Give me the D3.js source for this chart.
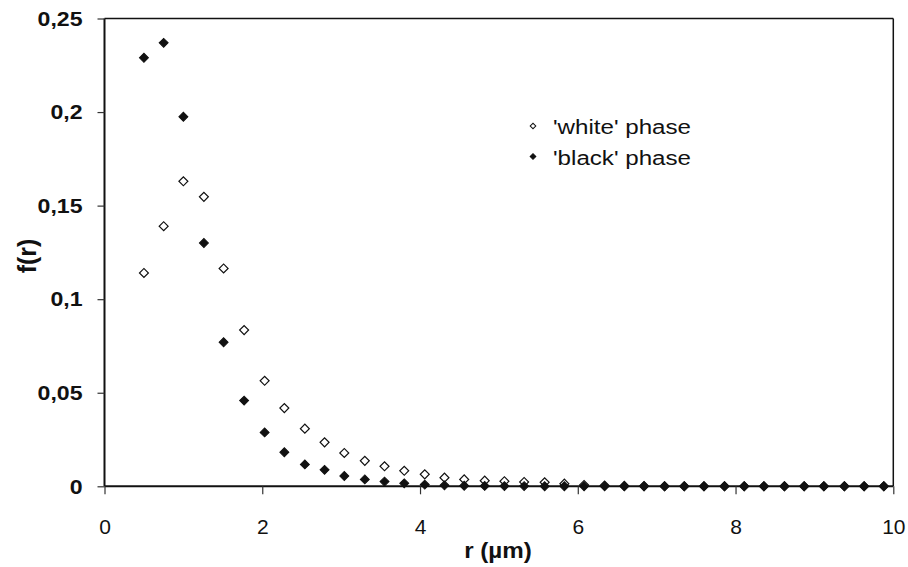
<!DOCTYPE html>
<html>
<head>
<meta charset="utf-8">
<script src="https://cdn.jsdelivr.net/npm/d3@7"></script>
<style>
body{margin:0;background:#fff;}
svg{display:block;font-family:Arial,"Liberation Sans",sans-serif;}
</style>
</head>
<body>
<div id="plot"></div>
<script>
// r values (µm) and f(r)
var rVals = [0.5,0.75,1.0,1.26,1.51,1.77,2.03,2.28,2.54,2.79,3.04,3.30,3.55,3.80,4.06,4.31,4.56,4.82,5.07,5.32,
	5.58,5.83,6.08,6.34,6.59,6.84,7.10,7.35,7.60,7.86,8.11,8.36,8.62,8.87,9.12,9.38,9.63,9.88];
var whitePhase = [0.114,0.139,0.163,0.1547,0.1164,0.0835,0.0564,0.0418,0.0308,0.0235,0.0178,0.0136,0.0107,0.0083,0.0064,0.0046,0.0037,0.0030,0.0027,0.0023,
	0.0021,0.0014,0.0007,0.0004,0.0002,0.0001,0,0,0,0,0,0,0,0,0,0,0,0];
var blackPhase = [0.229,0.237,0.1975,0.130,0.077,0.0458,0.0288,0.0182,0.0117,0.0088,0.0055,0.0037,0.0025,0.0016,0.0009,0.0005,0.0003,0.0002,0.0001,0.0001,
	0,0,0,0,0,0,0,0,0,0,0,0,0,0,0,0,0,0];
var xTicks = [0,2,4,6,8,10];
var yTicks = [0,0.05,0.1,0.15,0.2,0.25];
var seriesNames = ["'white' phase","'black' phase"];

var W = 908, H = 567;
var m = {t:18.5,r:14.7,b:80.7,l:104.5},
	width = W - m.l - m.r,
	height = H - m.t - m.b;

var svg = d3.select('#plot')
	.append('svg')
	.attr('width',W)
	.attr('height',H);

var plot = svg.append('g')
	.attr('transform','translate('+m.l+','+m.t+')');

var x = d3.scaleLinear().domain([0,10]).range([0,width]);
var y = d3.scaleLinear().domain([0,0.25]).range([height,0]);

//frame: top + right
plot.append('line').attr('x1',0).attr('x2',width).attr('y1',0).attr('y2',0)
	.style('stroke','#111').style('stroke-width',1.5);
plot.append('line').attr('x1',width).attr('x2',width).attr('y1',0).attr('y2',height)
	.style('stroke','#111').style('stroke-width',1.5);

//axes
var yAxis = plot.append('g')
	.call(d3.axisLeft(y).tickValues(yTicks).tickSize(7).tickPadding(15)
		.tickFormat(function(d){ return d3.format('')(+d.toFixed(2)).replace('.',','); }));
yAxis.selectAll('text')
	.style('font-size','21px').style('font-weight','bold').style('fill','#111')
	.attr('x',0)
	.attr('transform','translate(-22,0) scale(1.1,1)');

var xAxis = plot.append('g')
	.attr('transform','translate(0,'+height+')')
	.call(d3.axisBottom(x).tickValues(xTicks).tickSize(8).tickPadding(25));
xAxis.selectAll('text')
	.style('font-size','21px').style('fill','#111');

[yAxis,xAxis].forEach(function(a){
	a.select('.domain').style('stroke','#111').style('stroke-width',2);
	a.selectAll('.tick line').style('stroke','#333').style('stroke-width',1.2);
});
xAxis.select('.domain').attr('d','M0,0H'+width);
yAxis.select('.domain').attr('d','M0,'+height+'V0');

//axis titles
svg.append('text')
	.attr('transform','translate(498,558) scale(1.1,1)')
	.attr('text-anchor','middle')
	.style('font-size','22px').style('font-weight','bold').style('fill','#111')
	.text('r (µm)');
svg.append('text')
	.attr('transform','translate(36,256) rotate(-90)')
	.attr('text-anchor','middle')
	.style('font-size','25px').style('font-weight','bold').style('fill','#111')
	.text('f(r)');

//markers
var diamond = d3.symbol().type(d3.symbolSquare).size(40);
var white = rVals.map(function(r,i){ return {r:r,v:whitePhase[i]}; });
var black = rVals.map(function(r,i){ return {r:r,v:blackPhase[i]}; });

plot.selectAll('.white').data(white).enter()
	.append('path').attr('class','white')
	.attr('d',diamond)
	.attr('transform',function(d){ return 'translate('+x(d.r)+','+y(d.v)+') rotate(45)'; })
	.style('fill','#fff').style('stroke','#111').style('stroke-width',1.2);

plot.selectAll('.black').data(black).enter()
	.append('path').attr('class','black')
	.attr('d',diamond)
	.attr('transform',function(d){ return 'translate('+x(d.r)+','+y(d.v)+') rotate(45)'; })
	.style('fill','#111').style('stroke','#111').style('stroke-width',1);

//legend
var legendMark = d3.symbol().type(d3.symbolSquare).size(16);
var legend = svg.append('g').attr('transform','translate(533,126)');
seriesNames.forEach(function(name,i){
	var g = legend.append('g').attr('transform','translate(0,'+(i*30.5)+')');
	g.append('path').attr('d',legendMark).attr('transform','rotate(45)')
		.style('fill',i==0?'#fff':'#111').style('stroke','#111').style('stroke-width',1);
	g.append('text')
		.attr('transform','translate(20,8) scale(1.15,1)')
		.style('font-size','21px').style('fill','#111')
		.text(name);
});
</script>
</body>
</html>
